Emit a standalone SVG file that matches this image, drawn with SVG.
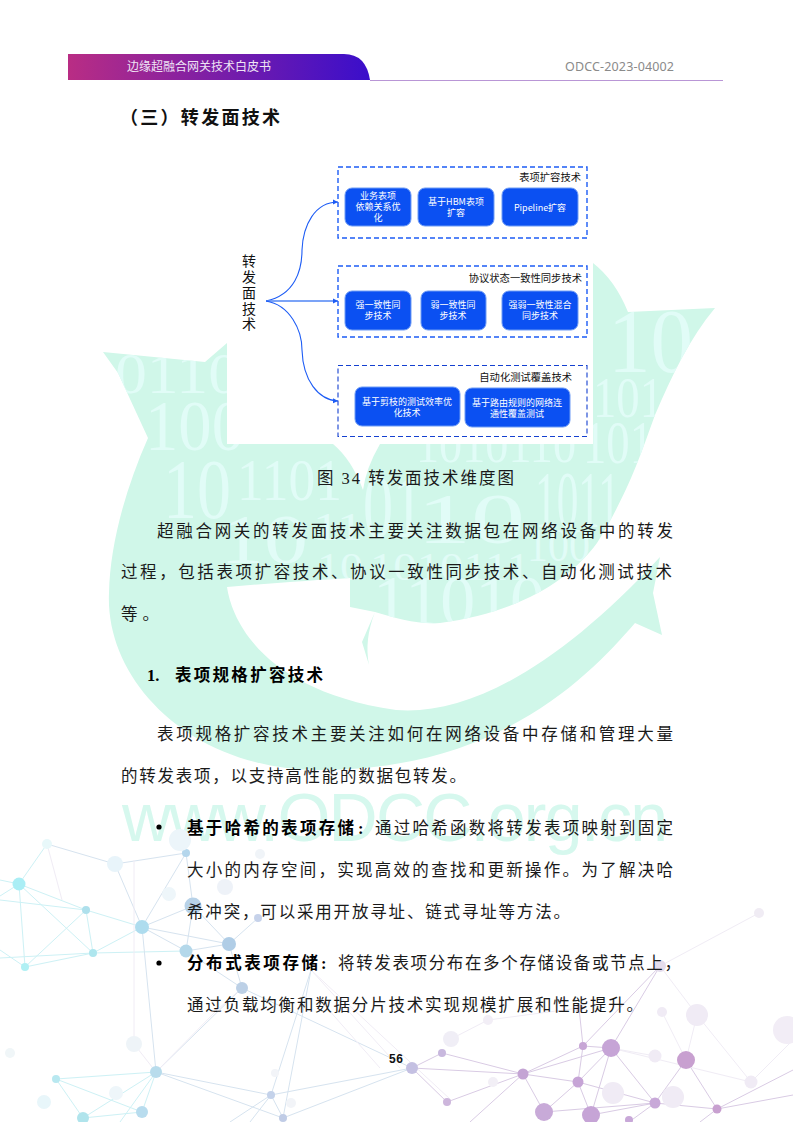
<svg xmlns="http://www.w3.org/2000/svg" width="793" height="1122" viewBox="0 0 793 1122">
<style>
.b{font-family:"Liberation Serif","Noto Sans CJK SC",serif;font-size:16.5px;fill:#1a1a1a;font-weight:400}
.bb{font-weight:700;fill:#000}
.dg text{font-family:"Liberation Serif",serif;fill:#e1fcf7}
.n rect{fill:#0b50f2;stroke:#6f9cf5;stroke-width:1}
.n text,.t{font-family:"Noto Sans CJK SC",sans-serif;font-size:9px;fill:#fff;text-anchor:middle}
.t{fill:#111;font-size:10.3px;text-anchor:end}
.box{fill:none;stroke:#1d5cf5;stroke-width:1.4;stroke-dasharray:5 3}
.cv{fill:none;stroke:#1d5cf5;stroke-width:1.1}
.c1 line{stroke:#cdf1f5;stroke-width:1}
.c2 line{stroke:#d6e3ef;stroke-width:1}
.c3 line{stroke:#d9cbe4;stroke-width:1}
.c4 line{stroke:#f0ecf5;stroke-width:1}
</style>
<defs>
<linearGradient id="hd" x1="0" x2="1" y1="0" y2="0"><stop offset="0" stop-color="#b92d84"/><stop offset="1" stop-color="#3a0ecb"/></linearGradient>
<marker id="ah" markerWidth="6" markerHeight="6" refX="5" refY="3" orient="auto" markerUnits="userSpaceOnUse"><path d="M0,0.5L5,3L0,5.5Z" fill="#1d5cf5"/></marker>
<path id="leaf" d="M103,352 L205,362 L227,343 L593,263 Q615,280 628,312 L715,308 C690,338 672,375 655,415 C642,450 630,490 597,543 C570,580 520,612 440,623 C420,625 395,618 375,612 L350,607 L350,578 C317,580 273,583 227,587 C232,620 262,690 396,710 C470,716 560,665 660,557 L653,593 L662,635 L635,623 C590,675 500,770 320,770 C190,770 105,680 109,593 C110,545 125,490 148,438 L118,373 Z"/>
<clipPath id="lc"><use href="#leaf"/></clipPath>
</defs>
<rect width="793" height="1122" fill="#fff"/>
<g id="watermark">
<use href="#leaf" fill="#d0f7e9"/>
<path fill="#d0f7e9" d="M375,612 L362,642 L369,665 Q364,640 375,612Z"/>
<g class="dg" clip-path="url(#lc)">
<text x="115" y="393" font-size="58" textLength="125" lengthAdjust="spacingAndGlyphs">0110</text>
<text x="145" y="450" font-size="72" textLength="100" lengthAdjust="spacingAndGlyphs">100</text>
<text x="608" y="372" font-size="92" textLength="85" lengthAdjust="spacingAndGlyphs">10</text>
<text x="593" y="417" font-size="58" textLength="70" lengthAdjust="spacingAndGlyphs">101</text>
<text x="583" y="463" font-size="62" textLength="70" lengthAdjust="spacingAndGlyphs">101</text>
<text x="416" y="462" font-size="50" textLength="160" lengthAdjust="spacingAndGlyphs">1010110</text>
<text x="163" y="518" font-size="84" textLength="68" lengthAdjust="spacingAndGlyphs">10</text>
<text x="237" y="500" font-size="60" textLength="105" lengthAdjust="spacingAndGlyphs">1101</text>
<text x="363" y="537" font-size="90" textLength="60" lengthAdjust="spacingAndGlyphs">01</text>
<text x="417" y="543" font-size="72" textLength="108" lengthAdjust="spacingAndGlyphs">10</text>
<text x="535" y="527" font-size="80" textLength="85" lengthAdjust="spacingAndGlyphs">1011</text>
<text x="220" y="563" font-size="70" textLength="88" lengthAdjust="spacingAndGlyphs">10</text>
<text x="313" y="540" font-size="40" textLength="50" lengthAdjust="spacingAndGlyphs">11</text>
<text x="317" y="580" font-size="40" textLength="46" lengthAdjust="spacingAndGlyphs">10</text>
<text x="370" y="580" font-size="40" textLength="160" lengthAdjust="spacingAndGlyphs">1010111</text>
<text x="527" y="561" font-size="46" textLength="63" lengthAdjust="spacingAndGlyphs">100</text>
<text x="373" y="625" font-size="72" textLength="172" lengthAdjust="spacingAndGlyphs">11010</text>
</g>
<text x="122" y="841" font-family="Liberation Sans,sans-serif" font-size="68" fill="#d6f8ee" textLength="546">www.ODCC.org.cn</text>
</g>
<path fill="#fff" d="M333,444 Q352,460 363,490 Q366,468 380,444Z"/>
<g id="network">
<g class="c1">
<line x1="0" y1="880" x2="19" y2="884"/><line x1="0" y1="896" x2="19" y2="884"/><line x1="19" y1="884" x2="86" y2="910"/><line x1="19" y1="884" x2="25" y2="967"/><line x1="19" y1="884" x2="93" y2="953"/><line x1="0" y1="900" x2="86" y2="910"/><line x1="86" y1="910" x2="142" y2="927"/><line x1="86" y1="910" x2="93" y2="953"/><line x1="86" y1="910" x2="25" y2="967"/><line x1="142" y1="927" x2="93" y2="953"/><line x1="25" y1="967" x2="93" y2="953"/><line x1="0" y1="958" x2="93" y2="953"/><line x1="0" y1="950" x2="25" y2="967"/><line x1="93" y1="953" x2="186" y2="951"/><line x1="47" y1="844" x2="19" y2="884"/><line x1="56" y1="1079" x2="156" y2="1072"/><line x1="56" y1="1079" x2="83" y2="1118"/><line x1="56" y1="1079" x2="142" y2="1112"/><line x1="83" y1="1118" x2="156" y2="1072"/><line x1="142" y1="1112" x2="156" y2="1072"/><line x1="120" y1="1122" x2="156" y2="1072"/><line x1="142" y1="1112" x2="83" y2="1118"/>
</g>
<g class="c2">
<line x1="142" y1="927" x2="186" y2="951"/><line x1="142" y1="927" x2="229" y2="944"/><line x1="142" y1="927" x2="193" y2="906"/><line x1="186" y1="951" x2="229" y2="944"/><line x1="186" y1="951" x2="193" y2="906"/><line x1="193" y1="906" x2="229" y2="944"/><line x1="193" y1="906" x2="186" y2="853"/><line x1="186" y1="853" x2="142" y2="927"/><line x1="229" y1="944" x2="258" y2="918"/><line x1="229" y1="944" x2="242" y2="988"/><line x1="186" y1="951" x2="242" y2="988"/><line x1="142" y1="927" x2="156" y2="1072"/><line x1="156" y1="1072" x2="242" y2="988"/><line x1="156" y1="1072" x2="271" y2="1095"/><line x1="156" y1="1072" x2="283" y2="1118"/><line x1="115" y1="864" x2="186" y2="853"/><line x1="115" y1="864" x2="142" y2="927"/><line x1="47" y1="844" x2="115" y2="864"/><line x1="311" y1="970" x2="283" y2="1118"/><line x1="311" y1="970" x2="271" y2="1095"/><line x1="271" y1="1095" x2="412" y2="1068"/><line x1="271" y1="1095" x2="283" y2="1118"/><line x1="283" y1="1118" x2="412" y2="1068"/><line x1="230" y1="1122" x2="271" y2="1095"/><line x1="250" y1="1122" x2="271" y2="1095"/><line x1="242" y1="988" x2="412" y2="1068"/>
</g>
<g class="c3">
<line x1="412" y1="1068" x2="442" y2="1053"/><line x1="412" y1="1068" x2="523" y2="1074"/><line x1="412" y1="1068" x2="447" y2="1102"/><line x1="442" y1="1053" x2="523" y2="1074"/><line x1="447" y1="1102" x2="523" y2="1074"/><line x1="523" y1="1074" x2="611" y2="1048"/><line x1="523" y1="1074" x2="578" y2="1082"/><line x1="523" y1="1074" x2="544" y2="1112"/><line x1="523" y1="1074" x2="583" y2="1046"/><line x1="470" y1="1122" x2="523" y2="1074"/><line x1="578" y1="1082" x2="583" y2="1046"/><line x1="578" y1="1082" x2="611" y2="1048"/><line x1="611" y1="1048" x2="591" y2="1115"/><line x1="611" y1="1048" x2="655" y2="1103"/><line x1="611" y1="1048" x2="660" y2="966"/><line x1="583" y1="1046" x2="660" y2="966"/><line x1="583" y1="1046" x2="611" y2="1048"/><line x1="686" y1="1060" x2="655" y2="1103"/><line x1="686" y1="1060" x2="717" y2="1109"/><line x1="655" y1="1103" x2="717" y2="1109"/><line x1="655" y1="1103" x2="578" y2="1082"/><line x1="655" y1="1103" x2="544" y2="1112"/><line x1="655" y1="1103" x2="591" y2="1115"/><line x1="717" y1="1109" x2="793" y2="1070"/><line x1="717" y1="1109" x2="793" y2="1095"/><line x1="578" y1="1082" x2="591" y2="1115"/><line x1="629" y1="1122" x2="655" y2="1103"/><line x1="544" y1="1112" x2="578" y2="1082"/><line x1="579" y1="1008" x2="583" y2="1046"/><line x1="717" y1="1109" x2="700" y2="1122"/>
</g>
<g class="c4">
<line x1="47" y1="844" x2="62" y2="900"/><line x1="660" y1="966" x2="759" y2="913"/><line x1="662" y1="1012" x2="686" y2="1060"/><line x1="697" y1="1015" x2="686" y2="1060"/><line x1="697" y1="1015" x2="751" y2="1082"/><line x1="660" y1="966" x2="697" y2="1015"/><line x1="488" y1="1020" x2="579" y2="1008"/><line x1="451" y1="1039" x2="488" y2="1020"/><line x1="311" y1="970" x2="451" y2="1100"/><line x1="311" y1="970" x2="400" y2="1068"/><line x1="320" y1="1000" x2="380" y2="1068"/><line x1="134" y1="1044" x2="156" y2="1072"/><line x1="156" y1="1072" x2="217" y2="1010"/><line x1="217" y1="1010" x2="242" y2="988"/><line x1="134" y1="860" x2="134" y2="1044"/><line x1="751" y1="1082" x2="793" y2="1040"/><line x1="611" y1="1048" x2="751" y2="1082"/><line x1="655" y1="1056" x2="611" y2="1048"/></g>
<g>
<circle cx="19" cy="884" r="6.5" fill="#aaeef5"/><circle cx="86" cy="910" r="4" fill="#aee0ec"/><circle cx="142" cy="927" r="7" fill="#aedcee"/><circle cx="93" cy="953" r="4" fill="#aee6ee"/><circle cx="25" cy="967" r="4" fill="#b0f0f4"/><circle cx="186" cy="951" r="6.5" fill="#b4d8ea"/><circle cx="229" cy="944" r="7" fill="#b0cde6"/><circle cx="193" cy="906" r="8.5" fill="#b8d2e8"/><circle cx="186" cy="853" r="4" fill="#b4d6ec"/><circle cx="115" cy="864" r="8" fill="#e8f4fa"/><circle cx="180" cy="840" r="11" fill="#ecf5fa"/><circle cx="47" cy="844" r="5" fill="#e8f8fa"/><circle cx="260" cy="854" r="5" fill="#f0f4f8"/><circle cx="225" cy="887" r="8" fill="#eef2f8"/><circle cx="169" cy="894" r="7" fill="#eef6fa"/><circle cx="258" cy="918" r="4" fill="#c6d2ea"/><circle cx="242" cy="988" r="6" fill="#bcd0e6"/><circle cx="134" cy="1044" r="8" fill="#eef4f8"/><circle cx="10" cy="1053" r="5" fill="#f0f6f8"/><circle cx="156" cy="1072" r="6" fill="#b8dcec"/><circle cx="56" cy="1079" r="4" fill="#b8e8f0"/><circle cx="44" cy="1102" r="7" fill="#e8f6fa"/><circle cx="83" cy="1118" r="6" fill="#b0e4ec"/><circle cx="142" cy="1112" r="6" fill="#b8dcee"/><circle cx="116" cy="1093" r="7" fill="#eef6fa"/><circle cx="271" cy="1095" r="4" fill="#c4d2ea"/><circle cx="283" cy="1118" r="4" fill="#c0cce6"/><circle cx="291" cy="1103" r="5" fill="#f2f4f8"/><circle cx="275" cy="1073" r="4" fill="#f2f4f8"/><circle cx="412" cy="1068" r="6" fill="#c4c0e2"/><circle cx="442" cy="1053" r="4" fill="#c8b8de"/><circle cx="451" cy="1039" r="8" fill="#f0eef6"/><circle cx="447" cy="1102" r="4" fill="#cdb6dc"/><circle cx="523" cy="1074" r="5.5" fill="#c4a4d4"/><circle cx="493" cy="1082" r="5" fill="#f2eff6"/><circle cx="583" cy="1046" r="4" fill="#c7a6d5"/><circle cx="611" cy="1048" r="9" fill="#c6a4d6"/><circle cx="578" cy="1082" r="5.5" fill="#c6a4d6"/><circle cx="544" cy="1112" r="9" fill="#c8aad8"/><circle cx="591" cy="1115" r="9" fill="#c6a4d6"/><circle cx="613" cy="1093" r="11" fill="#f0ebf5"/><circle cx="655" cy="1103" r="5.5" fill="#c8a8d8"/><circle cx="673" cy="1097" r="11" fill="#f0ebf5"/><circle cx="655" cy="1056" r="6.5" fill="#f0ebf5"/><circle cx="686" cy="1060" r="9" fill="#c8a0d0"/><circle cx="717" cy="1109" r="4.5" fill="#c8a0d0"/><circle cx="751" cy="1082" r="6.5" fill="#f0ebf5"/><circle cx="697" cy="1015" r="11" fill="#f0ebf5"/><circle cx="662" cy="1012" r="5" fill="#f0ebf5"/><circle cx="660" cy="966" r="6" fill="#e4dcec"/><circle cx="579" cy="1008" r="4" fill="#e4d8ea"/><circle cx="488" cy="1020" r="5" fill="#f2eef6"/><circle cx="759" cy="913" r="5" fill="#f0ecf4"/><circle cx="787" cy="1030" r="14" fill="#f2edf6"/><circle cx="629" cy="1120" r="4" fill="#c8a8d8"/>
</g>
</g>
<g id="header">
<path d="M68,54 H344 Q366,54 370,80 H68Z" fill="url(#hd)"/>
<line x1="370" y1="80.5" x2="723" y2="80.5" stroke="#b996d6" stroke-width="1"/>
<text x="127" y="71" font-family="Noto Sans CJK SC,sans-serif" font-size="12" fill="#efe4f5" textLength="144">边缘超融合网关技术白皮书</text>
<text x="565" y="71" font-family="Noto Sans,sans-serif" font-size="12.5" fill="#8a8a8a" textLength="109">ODCC-2023-04002</text>
</g>
<text x="120" y="124" font-family="Noto Sans CJK SC,sans-serif" font-size="18" font-weight="700" fill="#111" textLength="160">（三）转发面技术</text>
<rect x="227" y="150" width="366" height="294" fill="#fff"/>
<g id="connectors">
<path class="cv" marker-end="url(#ah)" d="M266,301 C295,295 302,270 302,250 C303,225 315,202 338,202"/>
<path class="cv" marker-end="url(#ah)" style="stroke:#4f85f5;stroke-width:1.6" d="M266,301 H338"/>
<path class="cv" marker-end="url(#ah)" d="M266,301 C290,305 302,330 302,350 C303,380 318,400 338,401"/>
</g>
<g id="root"><g font-family="Noto Sans CJK SC,sans-serif" font-size="14" fill="#111" text-anchor="middle"><text x="249" y="266">转</text><text x="249" y="282">发</text><text x="249" y="298">面</text><text x="249" y="314">技</text><text x="249" y="329">术</text></g></g>
<g id="group1"><rect class="box" x="338" y="167" width="249" height="71"/><text class="t" x="581" y="181">表项扩容技术</text></g>
<g id="group2"><rect class="box" x="338" y="266" width="249" height="71"/><text class="t" x="582" y="282">协议状态一致性同步技术</text></g>
<g id="group3"><rect class="box" style="stroke-width:1.1;stroke:#1440d0" x="338" y="365.5" width="249" height="71"/><text class="t" x="572" y="381">自动化测试覆盖技术</text></g>
<g id="n1" class="n"><rect x="345" y="188" width="66" height="38" rx="7"/><text x="378" y="199">业务表项</text><text x="378" y="210">依赖关系优</text><text x="378" y="221">化</text></g>
<g id="n2" class="n"><rect x="418" y="188" width="76" height="38" rx="7"/><text x="456" y="205">基于HBM表项</text><text x="456" y="216">扩容</text></g>
<g id="n3" class="n"><rect x="502" y="188" width="76" height="38" rx="7"/><text x="540" y="211">Pipeline扩容</text></g>
<g id="n4" class="n"><rect x="345" y="291" width="66" height="39" rx="7"/><text x="378" y="308">强一致性同</text><text x="378" y="319">步技术</text></g>
<g id="n5" class="n"><rect x="421" y="291" width="65" height="39" rx="7"/><text x="453" y="308">弱一致性同</text><text x="453" y="319">步技术</text></g>
<g id="n6" class="n"><rect x="502" y="291" width="76" height="39" rx="7"/><text x="540" y="308">强弱一致性混合</text><text x="540" y="319">同步技术</text></g>
<g id="n7" class="n"><rect x="355" y="387" width="105" height="39" rx="7"/><text x="407" y="405">基于剪枝的测试效率优</text><text x="407" y="416">化技术</text></g>
<g id="n8" class="n"><rect x="465" y="388" width="105" height="39" rx="7"/><text x="517" y="406">基于路由规则的网络连</text><text x="517" y="417">通性覆盖测试</text></g>
<g id="body">
<text class="b" x="317" y="484" textLength="197">图 34 转发面技术维度图</text>
<text class="b" x="157" y="537" textLength="516">超融合网关的转发面技术主要关注数据包在网络设备中的转发</text>
<text class="b" x="121" y="578" textLength="551">过程，包括表项扩容技术、协议一致性同步技术、自动化测试技术</text>
<text class="b" x="121" y="620" textLength="38">等。</text>
<text class="b bb" x="147" y="681">1.</text>
<text class="b bb" x="175" y="681" textLength="148">表项规格扩容技术</text>
<text class="b" x="157" y="740" textLength="516">表项规格扩容技术主要关注如何在网络设备中存储和管理大量</text>
<text class="b" x="121" y="782" textLength="345">的转发表项，以支持高性能的数据包转发。</text>
<circle cx="159" cy="827" r="2.6" fill="#000"/>
<text class="b bb" x="187" y="834" textLength="167">基于哈希的表项存储</text><text class="b bb" x="358" y="834">:</text>
<text class="b" x="375" y="834" textLength="298">通过哈希函数将转发表项映射到固定</text>
<text class="b" x="187" y="876" textLength="486">大小的内存空间，实现高效的查找和更新操作。为了解决哈</text>
<text class="b" x="187" y="918" textLength="383">希冲突，可以采用开放寻址、链式寻址等方法。</text>
<circle cx="159" cy="963" r="2.6" fill="#000"/>
<text class="b bb" x="187" y="969" textLength="131">分布式表项存储</text><text class="b bb" x="321" y="969">:</text>
<text class="b" x="338" y="969" textLength="343">将转发表项分布在多个存储设备或节点上，</text>
<text class="b" x="187" y="1011" textLength="456">通过负载均衡和数据分片技术实现规模扩展和性能提升。</text>
<text x="389" y="1063" font-family="Liberation Sans,sans-serif" font-size="12" font-weight="700" fill="#111" textLength="14">56</text>
</g>
</svg>
